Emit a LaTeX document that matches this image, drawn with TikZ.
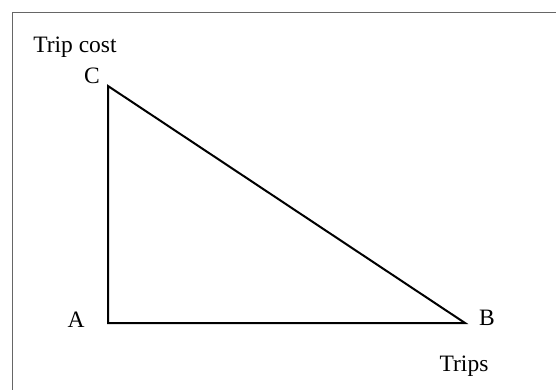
\documentclass[tikz,border=0pt]{standalone}
\usepackage{fontspec}
\setmainfont{Liberation Serif}
\usepackage{tikz}
\usetikzlibrary{positioning}

\begin{document}
\begin{tikzpicture}[
  x=1pt, y=-1pt,
  lbl/.style={font=\fontsize{23.5}{28}\selectfont, inner sep=0pt, anchor=center},
  side/.style={line width=2pt, black}
]
  \useasboundingbox (0,0) rectangle (556,390);
  % Frame (right and bottom edges fall outside the page)
  \draw[gray!80!black, line width=1pt] (12.5,12.5) rectangle (600,430);

  % Corners
  \coordinate (A) at (108,323);
  \coordinate (B) at (465,323);
  \coordinate (C) at (108,86);

  % Triangle
  \draw[side, line join=miter] (C) -- (A) -- (B) -- cycle;

  % Labels
  \node[lbl] (ylab) at (75,47) {Trip cost};
  \node[lbl] (clab) at (92,76) {C};
  \node[lbl] (alab) at (76,320) {A};
  \node[lbl] (blab) at (487,318) {B};
  \node[lbl] (xlab) at (464,366) {Trips};
\end{tikzpicture}
\end{document}
